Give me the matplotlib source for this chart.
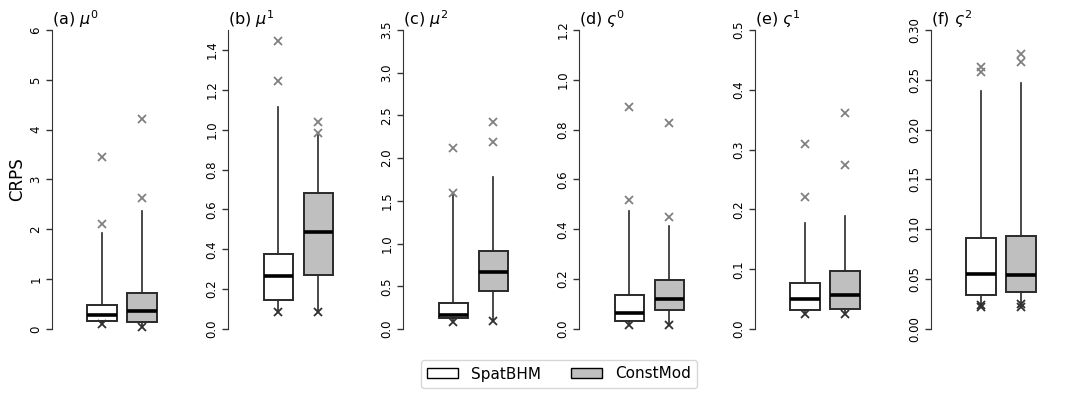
import numpy as np
import matplotlib.pyplot as plt

# panel titles and y ranges
titles = [r'(a) $\mu^0$', r'(b) $\mu^1$', r'(c) $\mu^2$',
          r'(d) $\varsigma^0$', r'(e) $\varsigma^1$', r'(f) $\varsigma^2$']
y_max = [6, 1.5, 3.5, 1.2, 0.5, 0.30]
y_step = [1, 0.2, 0.5, 0.2, 0.1, 0.05]
tick_fmt = ['{:.0f}', '{:.1f}', '{:.1f}', '{:.1f}', '{:.1f}', '{:.2f}']

# SpatBHM box stats
spat_low = [0.11, 0.084, 0.085, 0.016, 0.0245, 0.024]
spat_q1 = [0.17, 0.146, 0.125, 0.032, 0.0323, 0.0344]
spat_med = [0.275, 0.266, 0.167, 0.063, 0.0507, 0.0552]
spat_q3 = [0.475, 0.375, 0.30, 0.138, 0.0764, 0.0913]
spat_high = [1.92, 1.112, 1.59, 0.475, 0.178, 0.2385]
spat_out = [[3.46, 2.11], [1.445, 1.244], [2.12, 1.595], [0.89, 0.519],
            [0.309, 0.221], [0.263, 0.258]]
spat_out_low = [[0.11], [0.084], [0.085], [0.016], [0.0245], [0.024, 0.022]]

# ConstMod box stats
const_low = [0.05, 0.087, 0.097, 0.016, 0.0245, 0.025]
const_q1 = [0.15, 0.269, 0.449, 0.077, 0.0334, 0.0368]
const_med = [0.355, 0.485, 0.664, 0.12, 0.0574, 0.0545]
const_q3 = [0.72, 0.681, 0.917, 0.197, 0.097, 0.0933]
const_high = [2.36, 0.975, 1.78, 0.415, 0.189, 0.2465]
const_out = [[4.21, 2.63], [1.037, 0.982], [2.42, 2.19], [0.825, 0.449],
             [0.362, 0.275], [0.2756, 0.268]]
const_out_low = [[0.05], [0.087], [0.097], [0.016], [0.0245], [0.025, 0.0218]]

series = ['SpatBHM', 'ConstMod']
fills = ['white', '#bfbfbf']

axis_px = [52, 228.3, 403.3, 579.3, 755, 930.7]
W, H = 1080, 397

fig = plt.figure(figsize=(W / 100, H / 100), dpi=100)

for i in range(6):
    ax = fig.add_axes([axis_px[i] / W, (H - 329) / H, 120 / W, 299 / H])
    stats = []
    for lo, q1, md, q3, hi in [(spat_low[i], spat_q1[i], spat_med[i], spat_q3[i], spat_high[i]),
                               (const_low[i], const_q1[i], const_med[i], const_q3[i], const_high[i])]:
        stats.append(dict(whislo=lo, q1=q1, med=md, q3=q3, whishi=hi, fliers=[]))
    bp = ax.bxp(stats, positions=[1, 2], widths=0.74, showcaps=False,
                showfliers=False, patch_artist=True,
                boxprops=dict(edgecolor='#2a2a2a', linewidth=1.4),
                whiskerprops=dict(color='#2a2a2a', linewidth=1.2),
                medianprops=dict(color='black', linewidth=2.6))
    for patch, c in zip(bp['boxes'], fills):
        patch.set_facecolor(c)

    for pos, outs, lows in [(1, spat_out[i], spat_out_low[i]),
                            (2, const_out[i], const_out_low[i])]:
        ax.plot([pos] * len(outs), outs, 'x', color='#808080', ms=5.5, mew=1.3,
                clip_on=False)
        ax.plot([pos] * len(lows), lows, 'x', color='#303030', ms=5.5, mew=1.3,
                clip_on=False)

    ax.set_xlim(-0.25, 2.75)
    ax.set_ylim(0, y_max[i])
    ticks = np.arange(0, y_max[i] + 1e-9, y_step[i])
    ax.set_yticks(ticks)
    ax.set_yticklabels([tick_fmt[i].format(t) for t in ticks], rotation=90,
                       va='center', fontsize=8.5)
    ax.tick_params(axis='y', length=4, width=1, color='#333333', pad=3)
    ax.set_xticks([])
    for s in ['top', 'right', 'bottom']:
        ax.spines[s].set_visible(False)
    ax.spines['left'].set_color('#333333')
    ax.patch.set_alpha(0)
    ax.set_title(titles[i], loc='left', fontsize=11.5, pad=3)
    if i == 0:
        ax.set_ylabel('CRPS', fontsize=12, labelpad=2)

handles = [plt.Rectangle((0, 0), 1, 1, facecolor=c, edgecolor='black', linewidth=1)
           for c in fills]
fig.legend(handles, series, loc='center', ncol=2, fontsize=11,
           bbox_to_anchor=(559 / W, 1 - 374 / H), handlelength=2.0,
           handleheight=0.6, handletextpad=0.85, columnspacing=2.0)

fig.savefig('out.png', dpi=100)
